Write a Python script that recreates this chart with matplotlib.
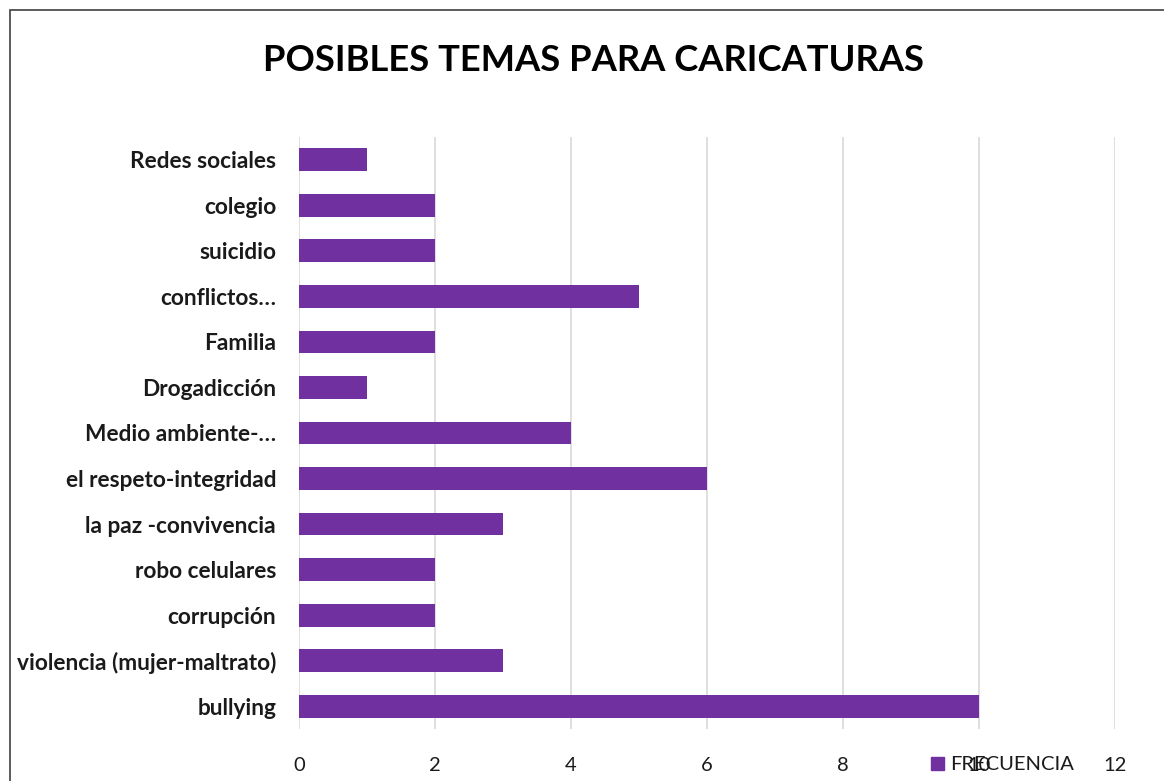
import matplotlib
matplotlib.use("Agg")
import matplotlib.pyplot as plt
from matplotlib.patches import Rectangle

# Categories bottom to top, as in the chart
TEMAS = [
    "bullying",
    "violencia (mujer-maltrato)",
    "corrupción",
    "robo celulares",
    "la paz -convivencia",
    "el respeto-integridad",
    "Medio ambiente-…",
    "Drogadicción",
    "Familia",
    "conflictos…",
    "suicidio",
    "colegio",
    "Redes sociales",
]
FRECUENCIA = [10, 3, 2, 2, 3, 6, 4, 1, 2, 5, 2, 2, 1]
XTICKS = [0, 2, 4, 6, 8, 10, 12]

PURPLE = "#7030A0"
FONT = ["Lato", "DejaVu Sans"]

plt.rcParams["font.family"] = FONT

fig = plt.figure(figsize=(11.64, 7.81), dpi=100)
ax = fig.add_axes([0.2569, 0.0666, 0.7010, 0.758])

y = range(len(TEMAS))
ax.barh(y, FRECUENCIA, height=0.5, color=PURPLE, zorder=3)

ax.set_xlim(0, 12)
ax.set_ylim(-0.5, len(TEMAS) - 0.5)
ax.set_xticks(XTICKS)
ax.set_xticklabels([str(t) for t in XTICKS], fontsize=14.5, color="#1a1a1a")
ax.set_yticks(list(y))
ax.set_yticklabels(TEMAS, fontsize=16.3, fontweight="bold", color="#1a1a1a")
ax.tick_params(axis="both", length=0)
ax.tick_params(axis="x", pad=20)
ax.tick_params(axis="y", pad=16.5)
ax.grid(axis="x", color="#D9D9D9", linewidth=1.2, zorder=0)
for s in ax.spines.values():
    s.set_visible(False)

fig.text(0.5095, 0.923, "POSIBLES TEMAS PARA CARICATURAS", ha="center",
         va="center", fontsize=26.2, fontweight="bold", color="black")

# legend entry at the bottom right
fig.patches.append(Rectangle((931 / 1164, 1 - 770 / 781), 13 / 1164, 13 / 781,
                             transform=fig.transFigure, color=PURPLE))
fig.text(950 / 1164, 1 - 764 / 781, "FRECUENCIA", ha="left", va="center",
         fontsize=14.5, color="#1a1a1a")

# chart border (cropped on the right and bottom)
fig.patches.append(Rectangle((10 / 1164, -0.1), 1.2, 1 - 10 / 781 + 0.1,
                             transform=fig.transFigure, fill=False,
                             edgecolor="#404040", linewidth=1.2))

fig.savefig("out.png", dpi=100)
